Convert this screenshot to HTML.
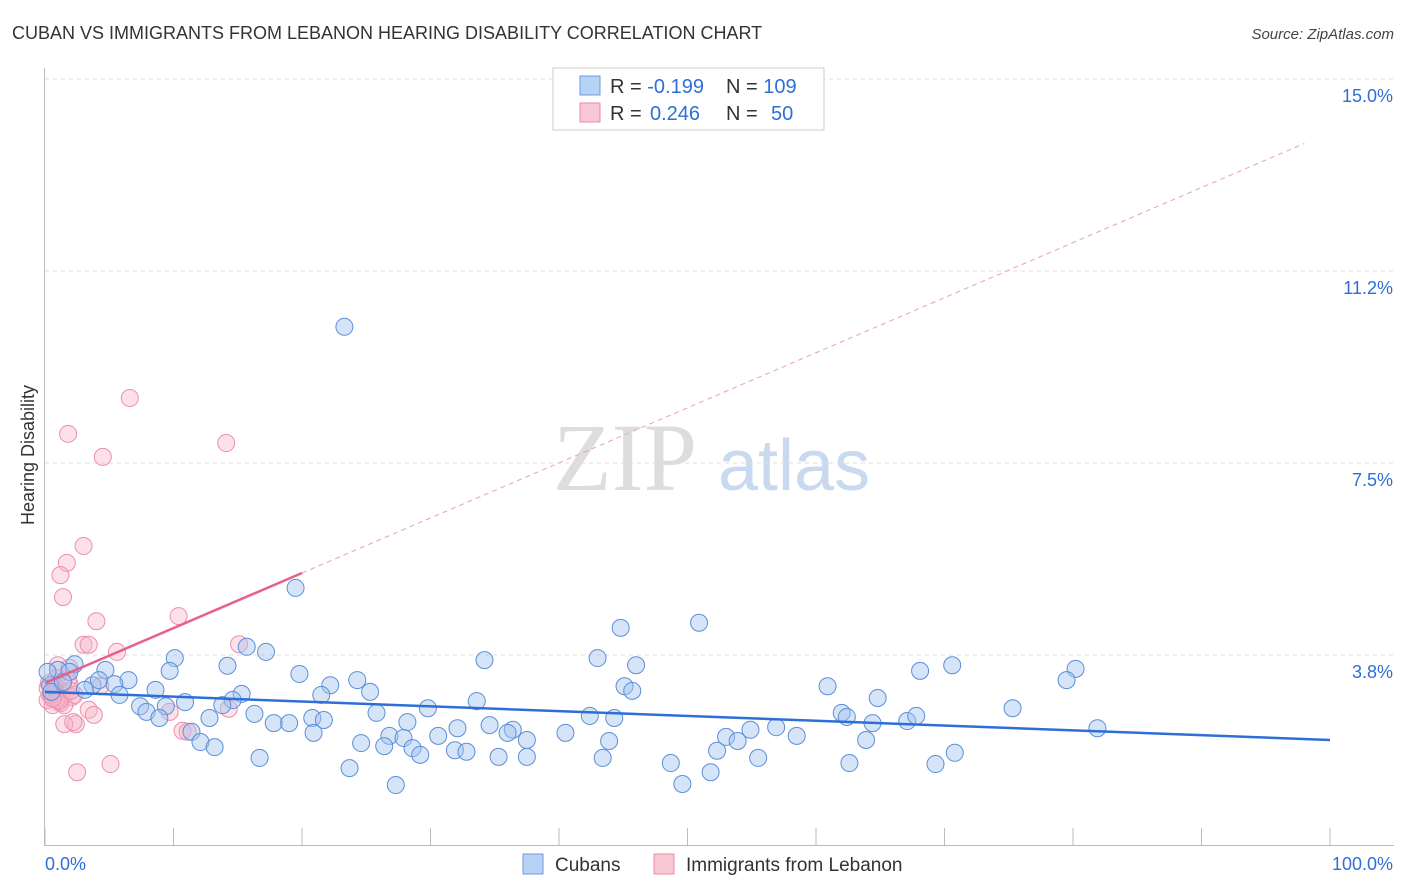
<!DOCTYPE html>
<html><head><meta charset="utf-8"><style>
body{margin:0;background:#fff;font-family:"Liberation Sans",sans-serif;}
</style></head><body>
<svg id="chart" width="1406" height="892" xmlns="http://www.w3.org/2000/svg" style="display:block">
<text x="12" y="39" font-size="18" fill="#333" font-family="Liberation Sans, sans-serif">CUBAN VS IMMIGRANTS FROM LEBANON HEARING DISABILITY CORRELATION CHART</text>
<text x="1394" y="39" font-size="15" fill="#444" text-anchor="end" font-style="italic">Source: ZipAtlas.com</text>
<text x="553" y="490" font-size="96" fill="#ddd" font-family="Liberation Serif, serif">ZIP</text>
<text x="718" y="490" font-size="72" fill="#c9d9f0">atlas</text>
<text transform="translate(34,455) rotate(-90)" font-size="18" fill="#333" text-anchor="middle">Hearing Disability</text>
<g id="grid"></g><g id="axes"></g><g id="marks"></g>
<g>
<rect x="553" y="68" width="271" height="62" fill="#fff" stroke="#ccc"/>
<rect x="580" y="76" width="20" height="19" fill="#b8d2f6" stroke="#6d9be0"/>
<rect x="580" y="103" width="20" height="19" fill="#f9c6d4" stroke="#e88aa8"/>
<text x="610" y="93" font-size="20" fill="#333">R = <tspan fill="#2e6fd6">-0.199</tspan><tspan x="726">N = </tspan><tspan fill="#2e6fd6">109</tspan></text>
<text x="610" y="120" font-size="20" fill="#333">R = <tspan fill="#2e6fd6" x="650">0.246</tspan><tspan x="726">N = </tspan><tspan fill="#2e6fd6" x="771">50</tspan></text>
</g>
<g>
<rect x="523" y="854" width="20" height="20" fill="#b8d2f6" stroke="#6d9be0"/>
<text x="555" y="871" font-size="19" fill="#333">Cubans</text>
<rect x="654" y="854" width="20" height="20" fill="#f9c6d4" stroke="#e88aa8"/>
<text x="686" y="871" font-size="19" fill="#333">Immigrants from Lebanon</text>
</g>
</svg>
<script>
const yTicks=[3.75,7.5,11.25,15];
const yTickLabels=["3.8%","7.5%","11.2%","15.0%"];
const xTickLabels=["0.0%","100.0%"];
const cubanX=[23.3,19.5,50.9,44.8,15.7,17.2,10.1,34.2,43.0,46.0,70.6,68.1,80.2,79.5,19.8,14.2,9.7,4.7,2.3,1.0,1.9,22.2,24.3,21.5,25.3,15.3,14.6,10.9,8.6,6.5,5.4,3.7,5.8,4.2,7.4,9.4,7.9,8.9,12.8,16.3,13.8,11.4,12.1,13.2,16.7,17.8,19.0,20.8,21.7,20.9,25.8,29.8,33.6,28.2,32.1,34.6,36.4,36.0,37.5,26.8,27.9,24.6,26.4,28.6,29.2,30.6,31.9,32.8,35.3,37.5,40.5,42.4,44.3,43.9,43.4,23.7,27.3,45.1,45.7,48.7,49.6,51.8,52.3,53.0,53.9,54.9,55.5,56.9,58.5,60.9,62.0,62.4,64.4,64.8,63.9,62.6,67.1,67.8,69.3,70.8,75.3,81.9,0.4,0.2,0.5,1.4,3.1];
const cubanY=[10.16,5.06,4.38,4.28,3.91,3.81,3.69,3.65,3.69,3.55,3.55,3.44,3.48,3.26,3.38,3.54,3.44,3.46,3.57,3.46,3.42,3.16,3.26,2.97,3.03,2.99,2.87,2.83,3.07,3.26,3.18,3.16,2.97,3.26,2.75,2.75,2.64,2.52,2.52,2.6,2.77,2.25,2.05,1.95,1.74,2.42,2.42,2.52,2.48,2.23,2.62,2.71,2.85,2.44,2.32,2.38,2.29,2.23,2.09,2.17,2.13,2.03,1.97,1.93,1.80,2.17,1.89,1.86,1.76,1.76,2.23,2.56,2.52,2.07,1.74,1.54,1.21,3.14,3.05,1.64,1.23,1.46,1.88,2.15,2.07,2.29,1.74,2.34,2.17,3.14,2.62,2.54,2.42,2.91,2.09,1.64,2.46,2.56,1.62,1.84,2.71,2.32,3.16,3.42,3.03,3.22,3.07];
const lebX=[6.6,1.8,14.1,4.5,3.0,1.7,1.2,1.4,10.4,4.0,3.0,3.4,15.1,5.6,1.0,1.9,9.7,14.3,3.4,3.8,10.7,2.4,1.5,2.2,5.1,2.5,0.2,0.5,0.8,1.0,1.2,0.6,1.3,1.6,1.9,2.1,0.2,0.9,1.5,2.3,1.8,0.4,0.9,4.3,11.1,0.3,0.7,1.1,2.0,0.6];
const lebY=[8.77,8.07,7.89,7.62,5.88,5.55,5.31,4.88,4.51,4.41,3.95,3.95,3.96,3.81,3.55,3.5,2.64,2.7,2.68,2.58,2.27,2.4,2.4,2.44,1.62,1.46,2.87,2.97,3.07,3.1,2.81,2.77,2.91,3.01,3.18,2.93,3.1,3.3,2.77,2.97,3.26,2.97,2.87,3.14,2.25,3.2,3.0,2.85,3.05,2.9];
const cubanLine=[3.03,2.09];
const lebLine=[3.2,13.74];
const X0=45,X1=1330,Y0=847,PPU=51.2;
function sx(v){return X0+(X1-X0)*v/100;}
function sy(v){return Y0-v*PPU;}
const NS="http://www.w3.org/2000/svg";
function mk(tag,attrs,parent){const e=document.createElementNS(NS,tag);for(const k in attrs)e.setAttribute(k,attrs[k]);parent.appendChild(e);return e;}
const grid=document.getElementById('grid'),axes=document.getElementById('axes'),marks=document.getElementById('marks');
yTicks.forEach((t,i)=>{
 const l=mk('line',{x1:45,x2:1394,y1:sy(t),y2:sy(t),stroke:'#ddd','stroke-dasharray':'4,4'},grid);
 
 
 const tx=mk('text',{x:1393,y:sy(t)+23,'font-size':18,fill:'#2e6fd6','text-anchor':'end'},axes);
 tx.textContent=yTickLabels[i];
 
 
});
const topGrid=mk('line',{x1:45,x2:1394,y1:79,y2:79,stroke:'#ddd','stroke-dasharray':'4,4'},grid);


const ya=mk('line',{x1:44.5,x2:44.5,y1:68,y2:846,stroke:'#bbb'},axes);


const xa=mk('line',{x1:44,x2:1394,y1:845.5,y2:845.5,stroke:'#bbb'},axes);


for(let i=0;i<=10;i++){
 const t=mk('line',{x1:sx(i*10),x2:sx(i*10),y1:828,y2:846,stroke:'#bbb'},axes);
 
 
}
const xl0=mk('text',{x:45,y:870,'font-size':18,fill:'#2e6fd6'},axes);xl0.textContent=xTickLabels[0];


const xl1=mk('text',{x:1393,y:870,'font-size':18,fill:'#2e6fd6','text-anchor':'end'},axes);xl1.textContent=xTickLabels[1];


lebX.forEach((v,i)=>{
 const c=mk('circle',{cx:sx(v),cy:sy(lebY[i]),r:8.5,fill:'rgba(248,180,200,0.4)',stroke:'#eb90ad','stroke-width':1},marks);
 
 
});
cubanX.forEach((v,i)=>{
 const c=mk('circle',{cx:sx(v),cy:sy(cubanY[i]),r:8.5,fill:'rgba(164,196,240,0.45)',stroke:'#5b8fd9','stroke-width':1},marks);
 
 
});
const bl=mk('line',{x1:sx(0),y1:sy(cubanLine[0]),x2:sx(100),y2:sy(cubanLine[1]),stroke:'#2e6fd6','stroke-width':2.5},marks);


const slope=(lebLine[1]-lebLine[0])/98;
const pl=mk('line',{x1:sx(0),y1:sy(lebLine[0]),x2:sx(20),y2:sy(lebLine[0]+slope*20),stroke:'#e8608a','stroke-width':2.5},marks);


const pd=mk('line',{x1:sx(20),y1:sy(lebLine[0]+slope*20),x2:sx(98),y2:sy(lebLine[1]),stroke:'#e8a0b8','stroke-width':1,'stroke-dasharray':'5,4'},marks);


</script>
</body></html>
